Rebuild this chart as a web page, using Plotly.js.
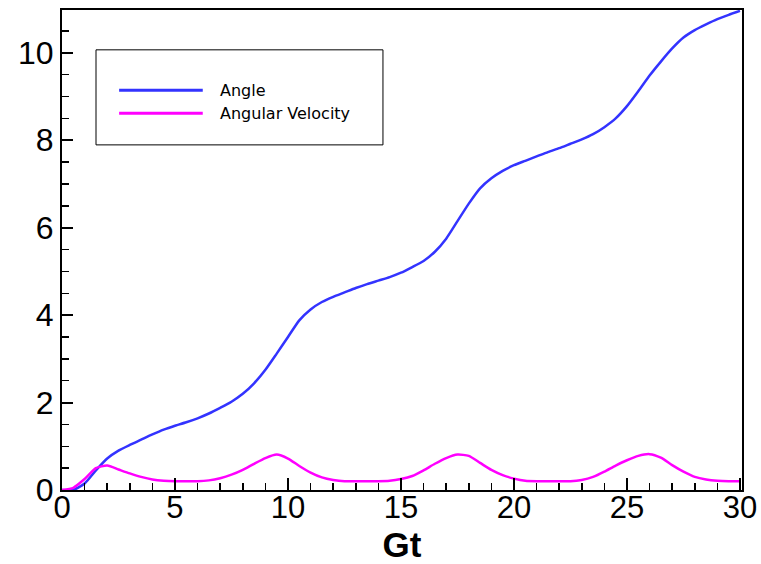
<!DOCTYPE html>
<html>
<head>
<meta charset="utf-8">
<script src="https://cdn.plot.ly/plotly-3.0.1.min.js"></script>
<style>html,body{margin:0;padding:0;background:#fff;}#chart{width:761px;height:564px;}</style>
</head>
<body>
<div id="chart"></div>
<script>
// Time values (Gt)
const gt = [0,0.5,1,1.5,2,2.5,3,3.5,4,4.5,5,5.5,6,6.5,7,7.5,8,8.5,9,9.5,10,10.5,11,11.5,12,12.5,13,13.5,14,14.5,15,15.5,16,16.5,17,17.5,18,18.5,19,19.5,20,20.5,21,21.5,22,22.5,23,23.5,24,24.5,25,25.5,26,26.5,27,27.5,28,28.5,29,29.5,30];
// Angle series
const angle = [0,0.0,0.15,0.45,0.72,0.9,1.03,1.15,1.27,1.38,1.47,1.55,1.64,1.75,1.88,2.02,2.2,2.44,2.75,3.12,3.5,3.88,4.13,4.3,4.42,4.52,4.62,4.71,4.79,4.87,4.97,5.1,5.24,5.45,5.75,6.15,6.55,6.9,7.13,7.3,7.43,7.53,7.63,7.73,7.82,7.92,8.02,8.14,8.3,8.5,8.78,9.12,9.48,9.8,10.1,10.35,10.52,10.65,10.77,10.87,10.96];
// Angular velocity series
const angularVelocity = [0,0.05,0.25,0.5,0.56,0.47,0.38,0.3,0.24,0.21,0.2,0.2,0.2,0.22,0.27,0.35,0.46,0.6,0.73,0.81,0.72,0.55,0.4,0.29,0.23,0.2,0.2,0.2,0.2,0.21,0.25,0.32,0.45,0.6,0.73,0.81,0.78,0.62,0.46,0.34,0.26,0.21,0.2,0.2,0.2,0.2,0.23,0.3,0.42,0.56,0.68,0.78,0.82,0.74,0.57,0.42,0.3,0.24,0.21,0.2,0.2];
const seriesNames = ["Angle", "Angular Velocity"];
const seriesColors = ["#3333ff", "#ff00ff"];
const xTickVals = [0,5,10,15,20,25,30];
const yTickVals = [0,2,4,6,8,10];

const traces = [
  {x: gt, y: angle, name: seriesNames[0], mode: "lines", line: {color: seriesColors[0], width: 2.5, shape: "spline", smoothing: 0.6}},
  {x: gt, y: angularVelocity, name: seriesNames[1], mode: "lines", line: {color: seriesColors[1], width: 2.5, shape: "spline", smoothing: 0.6}}
];

const font = "Liberation Sans, Arial, Helvetica, sans-serif";
const legendFont = "DejaVu Sans, Liberation Sans, sans-serif";
const layout = {
  width: 761, height: 564,
  margin: {l: 62, r: 19, t: 10, b: 74},
  paper_bgcolor: "#fff", plot_bgcolor: "#fff",
  showlegend: false,
  font: {family: font, color: "#000"},
  xaxis: {
    range: [0, 30.09], tickvals: xTickVals, ticktext: xTickVals.map(String),
    ticks: "inside", ticklen: 12, tickwidth: 2, tickcolor: "#000",
    minor: {dtick: 1, ticks: "inside", ticklen: 7, tickwidth: 1.5, tickcolor: "#000"},
    showline: true, linecolor: "#000", linewidth: 2, mirror: true,
    showgrid: false, zeroline: false,
    tickfont: {size: 31, family: font}, ticklabelstandoff: -11,
    title: {text: "<b>Gt</b>", font: {size: 35, family: font}}
  },
  yaxis: {
    range: [0, 10.98], tickvals: yTickVals, ticktext: yTickVals.map(String),
    ticks: "inside", ticklen: 11, tickwidth: 2, tickcolor: "#000",
    minor: {dtick: 0.5, ticks: "inside", ticklen: 7, tickwidth: 1.5, tickcolor: "#000"},
    showline: true, linecolor: "#000", linewidth: 2, mirror: true,
    showgrid: false, zeroline: false,
    tickfont: {size: 32, family: font}
  },
  shapes: [
    {type: "rect", xref: "paper", yref: "paper", x0: 0.05, x1: 0.472, y0: 0.719, y1: 0.917, line: {color: "#000", width: 1}, fillcolor: "#fff"},
    {type: "line", xref: "paper", yref: "paper", x0: 0.084, x1: 0.207, y0: 0.833, y1: 0.833, line: {color: seriesColors[0], width: 3}},
    {type: "line", xref: "paper", yref: "paper", x0: 0.084, x1: 0.207, y0: 0.785, y1: 0.785, line: {color: seriesColors[1], width: 3}}
  ],
  annotations: [
    {xref: "paper", yref: "paper", x: 0.229, y: 0.833, xanchor: "left", yanchor: "middle", showarrow: false, text: seriesNames[0], font: {size: 16, family: legendFont, color: "#000"}},
    {xref: "paper", yref: "paper", x: 0.229, y: 0.785, xanchor: "left", yanchor: "middle", showarrow: false, text: seriesNames[1], font: {size: 16, family: legendFont, color: "#000"}}
  ]
};

Plotly.newPlot("chart", traces, layout, {displayModeBar: false, staticPlot: true});
</script>
</body>
</html>
